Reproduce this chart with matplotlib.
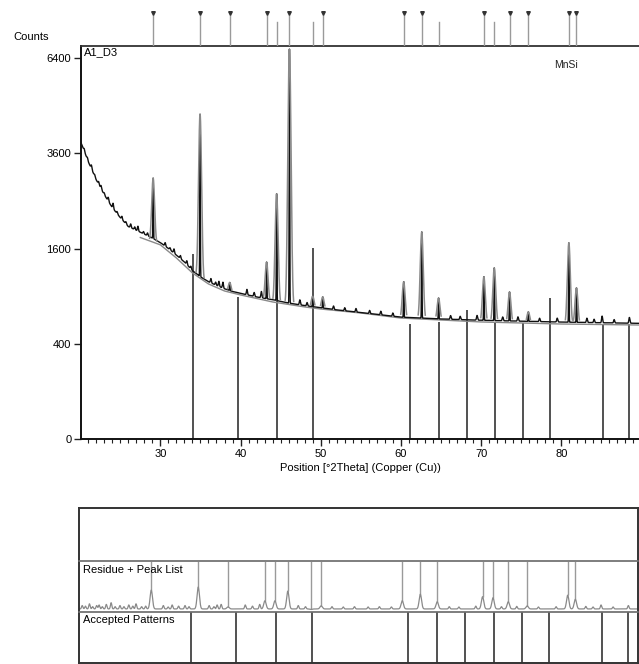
import numpy as np
import matplotlib
matplotlib.use("Agg")
import matplotlib.pyplot as plt
from matplotlib.ticker import FixedLocator, MultipleLocator

plt.rcParams['font.family'] = ['Liberation Sans', 'DejaVu Sans']

# scan baseline (2theta in degrees, counts)
scan_x = [20.1, 21, 22, 23, 24, 25, 26, 27, 28, 29, 30, 31, 32, 33, 34, 35, 36, 37, 38,
          39, 40, 42, 44, 46, 48, 50, 52, 55, 58, 60, 65, 70, 75, 80, 85, 89.7]
scan_y = [3870, 3390, 2960, 2630, 2360, 2160, 1990, 1920, 1850, 1780, 1700, 1600, 1490,
          1380, 1250, 1160, 1090, 1040, 995, 960, 935, 890, 855, 815, 785, 760, 735, 705,
          675, 655, 635, 622, 612, 603, 596, 590]

# fitted background line
bg_x = [27.5, 30, 32, 34, 36, 38, 40, 44, 48, 50, 55, 60, 70, 80, 89.7]
bg_y = [1790, 1662, 1445, 1216, 1060, 966, 915, 828, 769, 745, 700, 645, 604, 583, 573]

# peak list: position, counts at the top, shown with a marker in the top strip
peak_pos = [29.1, 34.95, 38.65, 43.25, 44.5, 46.1, 49.0, 50.25, 60.35, 62.6, 64.7,
            70.35, 71.65, 73.55, 75.9, 80.95, 81.9]
peak_top = [3000, 4650, 1080, 1380, 2650, 6700, 900, 890, 1090, 1890, 876,
            1160, 1290, 953, 712, 1695, 1006]
peak_marked = [1, 1, 1, 1, 0, 1, 0, 1, 1, 1, 0, 1, 0, 1, 1, 1, 1]
# residue peak heights (fraction of the residue panel)
residue_top = [0.43, 0.49, 0.10, 0.22, 0.22, 0.41, 0.05, 0.12, 0.22, 0.35, 0.20,
               0.30, 0.28, 0.20, 0.12, 0.33, 0.25]

# small features on the scan (position, counts above baseline)
bump_pos = [20.5, 20.9, 21.4, 21.8, 22.3, 22.6, 23.0, 23.5, 24.1, 24.6, 25.2, 25.7,
            26.3, 26.8, 27.2, 27.9, 28.4, 30.6, 31.2, 31.7, 32.5, 33.3, 33.8,
            36.3, 36.9, 37.3, 37.8, 40.8, 41.7, 42.6, 47.4, 48.3, 51.6, 53.0, 54.4,
            56.1, 57.5, 59.0, 66.2, 67.4, 69.5, 72.7, 74.6, 77.3, 79.5, 83.2, 84.1,
            85.1, 86.6, 88.5]
bump_h = [60, 50, 90, 40, 60, 70, 40, 80, 110, 40, 60, 40, 70, 50, 90, 40, 50, 60,
          35, 70, 50, 60, 40, 60, 40, 70, 80, 70, 50, 80, 60, 40, 40, 35, 40, 35,
          40, 35, 40, 35, 50, 40, 45, 35, 40, 45, 35, 70, 35, 60]

# MnSi reference pattern
ref_pos = [34.1, 39.7, 44.6, 49.05, 61.1, 64.7, 68.2, 71.8, 75.2, 78.6, 85.2, 88.5]
ref_counts = [1510, 890, 2250, 1610, 580, 600, 735, 600, 590, 876, 575, 580]

x_ticks = [30, 40, 50, 60, 70, 80]
y_ticks = [0, 400, 1600, 3600, 6400]
x_range = (20.1, 89.7)

W, H = 639, 664


def frame(left, top, right, bottom):
    """Figure rectangle from pixel edges."""
    return [left / W, 1 - bottom / H, (right - left) / W, (bottom - top) / H]


def peaks(x, pos, height, fwhm):
    sigma = fwhm / 2.355
    out = np.zeros_like(x)
    for p, h in zip(pos, height):
        out += h * np.exp(-0.5 * ((x - p) / sigma) ** 2)
    return out


two_theta = np.arange(x_range[0], x_range[1], 0.01)
base = np.interp(two_theta, scan_x, scan_y)
base_at_peak = np.interp(peak_pos, scan_x, scan_y)
bg_at_peak = np.interp(peak_pos, bg_x, bg_y)

observed = (base + peaks(two_theta, peak_pos, np.array(peak_top) - base_at_peak, 0.07)
            + peaks(two_theta, bump_pos, bump_h, 0.15))
fit_mask = two_theta >= bg_x[0]
fit_x = two_theta[fit_mask]
fit_bg = np.interp(fit_x, bg_x, bg_y)
fit_peaks = peaks(fit_x, peak_pos, np.array(peak_top) - bg_at_peak, 0.4)
# only draw the fitted profile where the peaks rise off the background
fitted = np.where(fit_peaks > 40, fit_bg + fit_peaks, np.nan)

fig = plt.figure(figsize=(W / 100, H / 100), dpi=100)

# main scan panel, square-root count axis
ax = fig.add_axes(frame(81, 46, 639, 439))
ax.set_yscale('function', functions=(lambda v: np.sqrt(np.clip(v, 0, None)),
                                     lambda v: np.square(v)))
ax.vlines(ref_pos, 0, ref_counts, color='#222222', lw=1.1, zorder=1)
ax.plot(bg_x, bg_y, color='#8a8a8a', lw=1.0, zorder=2)
ax.plot(two_theta, observed, color='#111111', lw=1.0, zorder=3)
ax.plot(fit_x, fitted, color='#8a8a8a', lw=1.1, zorder=4)
ax.set_xlim(*x_range)
ax.set_ylim(0, 6810)
ax.xaxis.set_major_locator(FixedLocator(x_ticks))
ax.xaxis.set_minor_locator(MultipleLocator(1))
ax.yaxis.set_major_locator(FixedLocator(y_ticks))
ax.yaxis.set_minor_locator(FixedLocator([]))
ax.set_yticklabels([str(v) for v in y_ticks])
ax.tick_params(axis='both', which='major', direction='out', length=5, width=1,
               labelsize=8, color='#222222', pad=2)
ax.tick_params(axis='x', which='minor', direction='out', length=3, width=0.8,
               color='#222222')
ax.spines['right'].set_visible(False)
for side in ('left', 'bottom'):
    ax.spines[side].set_linewidth(1.4)
    ax.spines[side].set_color('#111111')
ax.spines['top'].set_linewidth(1.3)
ax.spines['top'].set_color('#333333')
ax.set_xlabel('Position [°2Theta] (Copper (Cu))', fontsize=8, labelpad=3)
ax.text(0.006, 0.997, 'A1_D3', transform=ax.transAxes, fontsize=8,
        va='top', ha='left')
ax.text(0.87, 0.965, 'MnSi', transform=ax.transAxes, fontsize=7.5,
        va='top', ha='center', color='#222222')
fig.text(13 / W, 1 - 37 / H, 'Counts', fontsize=8, va='center', ha='left')

# peak list strip above the scan
strip = fig.add_axes(frame(81, 8, 639, 46), sharex=ax)
strip.set_ylim(0, 1)
strip.axis('off')
for p, m in zip(peak_pos, peak_marked):
    top = 0.86 if m else 0.63
    strip.plot([p, p], [0, top], color='#9a9a9a', lw=1.0)
    if m:
        strip.plot(p, top, marker='v', ms=2.6, color='#333333')

# residue, peak list and accepted patterns box
box_edges = [508, 561, 612, 663]
panels = []
for i in range(3):
    pax = fig.add_axes(frame(79, box_edges[i], 638, box_edges[i + 1]))
    pax.set_xlim(*x_range)
    pax.set_ylim(0, 1)
    pax.set_xticks([])
    pax.set_yticks([])
    for side in ('left', 'right'):
        pax.spines[side].set_color('#333333')
        pax.spines[side].set_linewidth(1.4)
    pax.spines['top'].set_color('#333333' if i == 0 else '#7a7a7a')
    pax.spines['top'].set_linewidth(1.4 if i == 0 else 1.1)
    pax.spines['bottom'].set_color('#333333' if i == 2 else '#7a7a7a')
    pax.spines['bottom'].set_linewidth(1.4 if i == 2 else 1.1)
    pax.patch.set_alpha(0)
    panels.append(pax)

res_ax = panels[1]
residue = (0.06 + peaks(two_theta, peak_pos, np.array(residue_top) - 0.06, 0.35)
           + peaks(two_theta, bump_pos, np.array(bump_h) / 900, 0.2))
res_ax.vlines(peak_pos, residue_top, 1, color='#9a9a9a', lw=1.0)
res_ax.plot(two_theta, residue, color='#8a8a8a', lw=0.9)
res_ax.text(0.007, 0.93, 'Residue + Peak List', transform=res_ax.transAxes,
            fontsize=8, va='top', ha='left')

acc_ax = panels[2]
acc_ax.vlines(ref_pos, 0, 1, color='#222222', lw=1.1)
acc_ax.text(0.007, 0.95, 'Accepted Patterns', transform=acc_ax.transAxes,
            fontsize=8, va='top', ha='left')

fig.savefig('out.png', dpi=100)
